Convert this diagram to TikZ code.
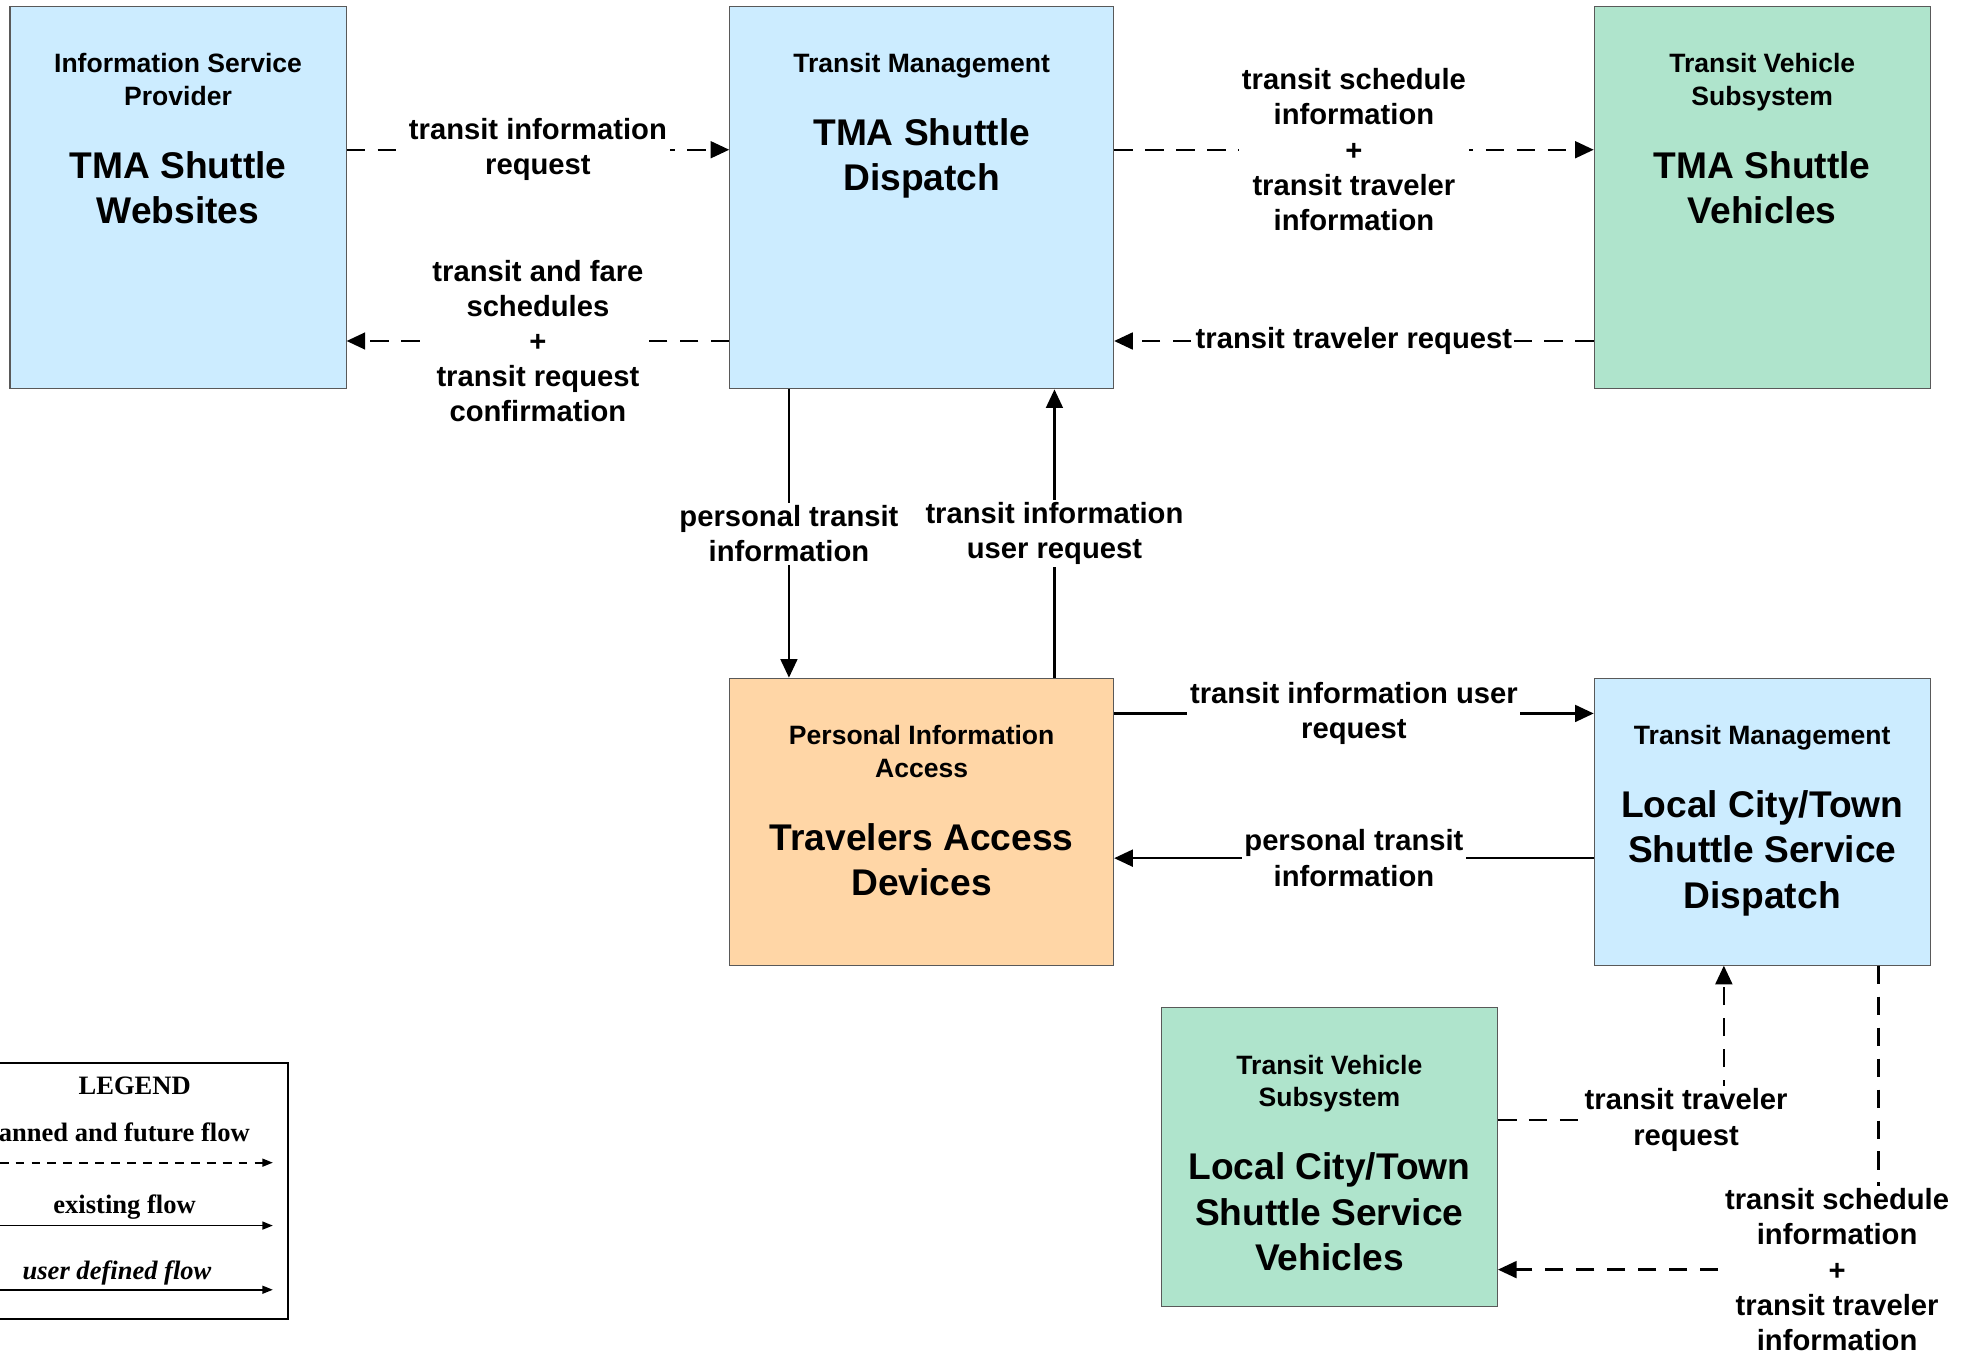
\documentclass[tikz,border=0pt]{standalone}
\usepackage{fontspec}
\setmainfont{Liberation Sans}
\newfontfamily\legendfont{Liberation Serif}
\usetikzlibrary{calc}
\usetikzlibrary{arrows.meta}
\definecolor{mgmtblue}{RGB}{204,236,255}
\definecolor{vehgreen}{RGB}{175,228,204}
\definecolor{accorange}{RGB}{255,214,166}

\begin{document}
\begin{tikzpicture}[x=0.025cm,y=-0.025cm]
\tikzstyle{sys}=[draw=black!65, line width=0.6pt, rectangle, inner sep=0pt, minimum width=6.675cm, minimum height=7.6cm]
\tikzstyle{head}=[anchor=north, align=center, inner sep=0pt, font=\fontsize{15}{18.5}\selectfont\bfseries]
\tikzstyle{ttl}=[anchor=north, align=center, inner sep=0pt, font=\fontsize{21}{25.6}\selectfont\bfseries]
\tikzstyle{flow}=[line width=1.3pt, -{Triangle[length=10.5pt,width=9.5pt]}]
\tikzstyle{future}=[flow, dash pattern=on 10.5pt off 7pt]
\tikzstyle{lbl}=[fill=white, align=center, inner sep=1.5pt, font=\fontsize{16.5}{19.9}\selectfont\bfseries]
\tikzstyle{leg}=[inner sep=0pt, font=\legendfont\fontsize{15}{17}\selectfont\bfseries]
\useasboundingbox (0,0) rectangle (1568,1074.5);

% Information service provider
\node (isp) at (141.5,157) [sys, fill=mgmtblue] {};
\node[head] (ispH) at ($(isp.north)+(0,37.5)$) {Information Service\\Provider};
\node[ttl] (ispT) at ($(isp.north)+(0,115.5)$) {TMA Shuttle\\Websites};

% TMA dispatch
\node (tma) at (732.5,157) [sys, fill=mgmtblue, minimum width=7.625cm] {};
\node[head] (tmaH) at ($(tma.north)+(0,37.5)$) {Transit Management};
\node[ttl] (tmaT) at ($(tma.north)+(0,89.5)$) {TMA Shuttle\\Dispatch};

% TMA vehicles
\node (tveh) at (1400.5,157) [sys, fill=vehgreen] {};
\node[head] (tvehH) at ($(tveh.north)+(0,37.5)$) {Transit Vehicle\\Subsystem};
\node[ttl] (tvehT) at ($(tveh.north)+(0,115.5)$) {TMA Shuttle\\Vehicles};

% Travelers access devices
\node (tad) at (732.5,653) [sys, fill=accorange, minimum width=7.625cm, minimum height=5.7cm] {};
\node[head] (tadH) at ($(tad.north)+(0,37.5)$) {Personal Information\\Access};
\node[ttl] (tadT) at ($(tad.north)+(0,115.5)$) {Travelers Access\\Devices};

% Local dispatch
\node (ldisp) at (1400.5,653) [sys, fill=mgmtblue, minimum height=5.7cm] {};
\node[head] (ldispH) at ($(ldisp.north)+(0,37.5)$) {Transit Management};
\node[ttl] (ldispT) at ($(ldisp.north)+(0,89.5)$) {Local City/Town\\Shuttle Service\\Dispatch};

% Local vehicles
\node (lveh) at (1056.5,919.5) [sys, fill=vehgreen, minimum height=5.925cm] {};
\node[head] (lvehH) at ($(lveh.north)+(0,37.5)$) {Transit Vehicle\\Subsystem};
\node[ttl] (lvehT) at ($(lveh.north)+(0,115.5)$) {Local City/Town\\Shuttle Service\\Vehicles};

% flows, upper row
\draw[future] ($(isp.east)+(0,-38)$) -- ($(tma.west)+(0,-38)$) node[lbl,pos=0.5] (f1) {transit information\\request};
\draw[future] ($(tma.west)+(0,114)$) -- ($(isp.east)+(0,114)$) node[lbl,pos=0.5] (f2) {transit and fare\\schedules\\+\\transit request\\confirmation};
\draw[future] ($(tma.east)+(0,-38)$) -- ($(tveh.west)+(0,-38)$) node[lbl,pos=0.5] (f3) {transit schedule\\information\\+\\transit traveler\\information};
\draw[future] ($(tveh.west)+(0,114)$) -- ($(tma.east)+(0,114)$) node[lbl,pos=0.5,inner sep=1pt] (f4) {transit traveler request};

% flows to and from the travelers
\draw[flow] ($(tma.south)+(-105.5,0)$) -- ($(tad.north)+(-105.5,0)$) node[lbl,pos=0.5] (f5) {personal transit\\information};
\draw[flow] ($(tad.north)+(105.5,0)$) -- ($(tma.south)+(105.5,0)$) node[lbl,pos=0.5] (f6) {transit information\\user request};
\draw[flow] ($(tad.east)+(0,-86)$) -- ($(ldisp.west)+(0,-86)$) node[lbl,pos=0.5] (f7) {transit information user\\request};
\draw[flow] ($(ldisp.west)+(0,29)$) -- ($(tad.east)+(0,29)$) node[lbl,pos=0.5] (f8) {personal transit\\information};

% local dispatch and vehicles
\draw[future] ($(lveh.east)+(0,-29.5)$) -| ($(ldisp.south)+(-30.5,0)$) node[lbl,pos=0.5,xshift=-0.75cm] (f9) {transit traveler\\request};
\draw[future] ($(ldisp.south)+(92.5,0)$) |- ($(lveh.east)+(0,89.5)$) node[lbl,pos=0.5,xshift=-0.825cm] (f10) {transit schedule\\information\\+\\transit traveler\\information};

% legend
\node (legend) at (108.5,946.5) [draw, line width=1.2pt, minimum width=6.025cm, minimum height=5.075cm] {};
\node[leg] (legT) at (107,863) {LEGEND};
\node[leg] (legF) at (90,902) {planned and future flow};
\node[leg] (legE) at (99,959) {existing flow};
\node[leg, font=\legendfont\fontsize{15}{17}\selectfont\bfseries\itshape] (legU) at (93,1012) {user defined flow};
\draw[line width=1pt, dash pattern=on 5pt off 4pt, -{Triangle[length=6pt,width=4.5pt]}] ($(legend.west)+(0,-22.5)$) -- ($(legend.east)+(-13,-22.5)$);
\draw[line width=1pt, -{Triangle[length=6pt,width=4.5pt]}] ($(legend.west)+(0,27.5)$) -- ($(legend.east)+(-13,27.5)$);
\draw[line width=1pt, -{Triangle[length=6pt,width=4.5pt]}] ($(legend.west)+(0,78.5)$) -- ($(legend.east)+(-13,78.5)$);
\end{tikzpicture}
\end{document}
